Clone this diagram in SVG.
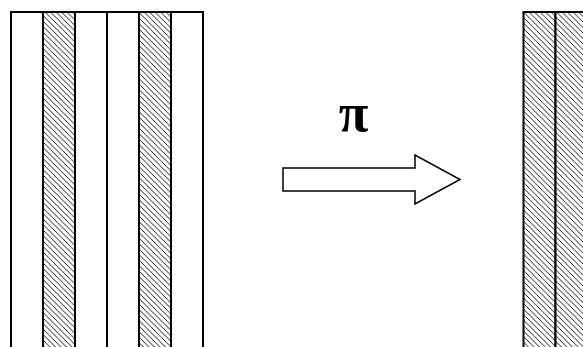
<svg xmlns="http://www.w3.org/2000/svg" width="583" height="347" viewBox="0 0 583 347">
  <style>
    .strip { fill: #ffffff; stroke: #000000; stroke-width: 2; }
    .hatch { fill: url(#hatch); stroke: #000000; stroke-width: 2; }
    .arrow { fill: #ffffff; stroke: #000000; stroke-width: 1.5; stroke-linejoin: miter; }
    .pi { font-family: "Liberation Serif", "DejaVu Serif", serif; font-weight: bold; font-size: 54px; fill: #000000; }
  </style>
  <defs>
    <pattern id="hatch" patternUnits="userSpaceOnUse" width="5.5" height="5.5">
      <rect width="5.5" height="5.5" fill="#ffffff"/>
      <path d="M-1,-1 L6.5,6.5 M-1,4.5 L1,6.5 M4.5,-1 L6.5,1" stroke="#000000" stroke-width="0.9"/>
    </pattern>
  </defs>
  <rect width="583" height="347" fill="#ffffff"/>
  <g id="left-block">
    <rect class="strip" x="11" y="12" width="32" height="345"/>
    <rect class="hatch" x="43" y="12" width="32" height="345"/>
    <rect class="strip" x="75" y="12" width="32" height="345"/>
    <rect class="strip" x="107" y="12" width="32" height="345"/>
    <rect class="hatch" x="139" y="12" width="32" height="345"/>
    <rect class="strip" x="171" y="12" width="32" height="345"/>
  </g>
  <g id="right-block">
    <rect class="hatch" x="523.5" y="12" width="32" height="345"/>
    <rect class="hatch" x="555.5" y="12" width="32" height="345"/>
  </g>
  <g id="connectors">
    <polygon id="arrow" class="arrow" points="283,168 415,168 415,155 460,179.5 415,204 415,191 283,191"/>
  </g>
  <g id="label">
    <text class="pi" x="353.5" y="131" text-anchor="middle">π</text>
  </g>
</svg>
